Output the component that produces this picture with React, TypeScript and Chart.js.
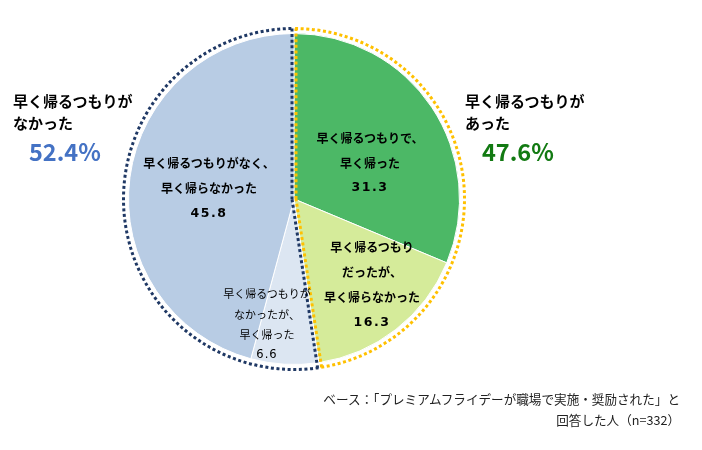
import React, { useEffect, useRef } from "react";
import { Chart, registerables } from "chart.js";

Chart.register(...registerables);

// ---- data ----
const categories = [
  "早く帰るつもりで、早く帰った",
  "早く帰るつもりだったが、早く帰らなかった",
  "早く帰るつもりがなかったが、早く帰った",
  "早く帰るつもりがなく、早く帰らなかった",
];
const values = [31.3, 16.3, 6.6, 45.8];
const sliceColors = ["#4CB866", "#D5EB9A", "#DCE6F2", "#B8CCE4"];
const sliceLabelLines = [
  ["早く帰るつもりで、", "早く帰った"],
  ["早く帰るつもり", "だったが、", "早く帰らなかった"],
  ["早く帰るつもりが", "なかったが、", "早く帰った"],
  ["早く帰るつもりがなく、", "早く帰らなかった"],
];
const groupNames = [
  ["早く帰るつもりが", "あった"],
  ["早く帰るつもりが", "なかった"],
];
const groupTotals = [47.6, 52.4];
const groupMembers = [
  [0, 1],
  [2, 3],
];
const groupColors = ["#FFC000", "#1F3864"];
const groupTotalColors = ["#127A12", "#4472C4"];
const noteLines = ["ベース：「プレミアムフライデーが職場で実施・奨励された」と", "回答した人（n=332）"];

const JP = '"Noto Sans CJK JP", "Noto Sans", sans-serif';
const NUM = '"DejaVu Sans", sans-serif';

const groupOutline = {
  id: "groupOutline",
  afterDatasetsDraw(chart: any) {
    const arcs = chart.getDatasetMeta(0).data as any[];
    if (!arcs || !arcs.length) return;
    const ctx = chart.ctx as CanvasRenderingContext2D;
    const cx = arcs[0].x;
    const cy = arcs[0].y;
    const R = arcs[0].outerRadius + 5;
    const off = 2;
    ctx.save();
    ctx.lineWidth = 3;
    ctx.setLineDash([3, 2.6]);
    ctx.lineCap = "butt";
    groupMembers.forEach((members, gi) => {
      const s = arcs[members[0]].startAngle;
      const e = arcs[members[members.length - 1]].endAngle;
      const ps = { x: -Math.sin(s) * off, y: Math.cos(s) * off };
      const pe = { x: Math.sin(e) * off, y: -Math.cos(e) * off };
      ctx.strokeStyle = groupColors[gi];
      ctx.beginPath();
      ctx.moveTo(cx + ps.x, cy + ps.y);
      ctx.lineTo(cx + Math.cos(s) * R + ps.x, cy + Math.sin(s) * R + ps.y);
      ctx.arc(cx, cy, R, s, e);
      ctx.moveTo(cx + Math.cos(e) * R + pe.x, cy + Math.sin(e) * R + pe.y);
      ctx.lineTo(cx + pe.x, cy + pe.y);
      ctx.stroke();
    });
    ctx.restore();
  },
};

type LineSpec = {
  text: string;
  x: number;
  y: number;
  size: number;
  weight?: number;
  color?: string;
  family?: string;
  align?: "center" | "left" | "right";
  spacing?: number;
};

function Line({ s }: { s: LineSpec }) {
  const tx = s.align === "left" ? "0" : s.align === "right" ? "-100%" : "-50%";
  return (
    <div
      style={{
        position: "absolute",
        left: s.x,
        top: s.y,
        transform: `translate(${tx}, -50%)`,
        whiteSpace: "nowrap",
        fontFamily: s.family || JP,
        fontSize: s.size,
        fontWeight: s.weight ?? 700,
        color: s.color || "#000",
        lineHeight: 1,
        letterSpacing: s.spacing ? `${s.spacing}px` : undefined,
      }}
    >
      {s.text}
    </div>
  );
}

export default function App() {
  const canvasRef = useRef<HTMLCanvasElement | null>(null);

  useEffect(() => {
    if (!canvasRef.current) return;
    const chart = new Chart(canvasRef.current, {
      type: "pie",
      data: {
        labels: categories,
        datasets: [
          {
            data: values,
            backgroundColor: sliceColors,
            borderColor: "#FFFFFF",
            borderWidth: 1,
          },
        ],
      },
      options: {
        responsive: false,
        animation: false,
        layout: { padding: { left: 128, right: 242, top: 33, bottom: 85 } },
        plugins: {
          legend: { display: false },
          tooltip: { enabled: false },
        },
      },
      plugins: [groupOutline],
    });
    return () => chart.destroy();
  }, []);

  // slice label placements (text layout only)
  const slicePos = [
    { x: 370, y0: 138, step: 24.5, size: 12, weight: 700 },
    { x: 372, y0: 247, step: 25, size: 12, weight: 700 },
    { x: 267, y0: 293, step: 20.5, size: 11, weight: 400 },
    { x: 209, y0: 163, step: 25, size: 12, weight: 700 },
  ];

  const lines: LineSpec[] = [];
  sliceLabelLines.forEach((ls, i) => {
    const p = slicePos[i];
    ls.forEach((t, j) => {
      lines.push({ text: t, x: p.x, y: p.y0 + j * p.step, size: p.size, weight: p.weight });
    });
    lines.push({
      text: values[i].toFixed(1),
      x: p.x,
      y: p.y0 + ls.length * p.step,
      size: p.size + 0.5,
      weight: p.weight,
      family: NUM,
      spacing: p.weight === 700 ? 1.5 : 1,
    });
  });

  const groupPos = [
    { x: 465, px: 482 },
    { x: 13, px: 29 },
  ];
  groupNames.forEach((ls, gi) => {
    const p = groupPos[gi];
    ls.forEach((t, j) => {
      lines.push({ text: t, x: p.x, y: 100 + j * 22, size: 15, weight: 700, align: "left" });
    });
    lines.push({
      text: `${groupTotals[gi].toFixed(1)}%`,
      x: p.px,
      y: 152,
      size: 23.5,
      weight: 700,
      align: "left",
      color: groupTotalColors[gi],
    });
  });

  noteLines.forEach((t, j) => {
    lines.push({ text: t, x: 680, y: 399 + j * 21, size: 12.6, weight: 400, align: "right", color: "#222" });
  });

  return (
    <div
      style={{
        position: "fixed",
        left: 0,
        top: 0,
        width: 702,
        height: 450,
        background: "#FFFFFF",
        overflow: "hidden",
      }}
    >
      <canvas ref={canvasRef} width={702} height={450} style={{ display: "block", width: 702, height: 450 }} />
      {lines.map((s, i) => (
        <Line key={i} s={s} />
      ))}
    </div>
  );
}
